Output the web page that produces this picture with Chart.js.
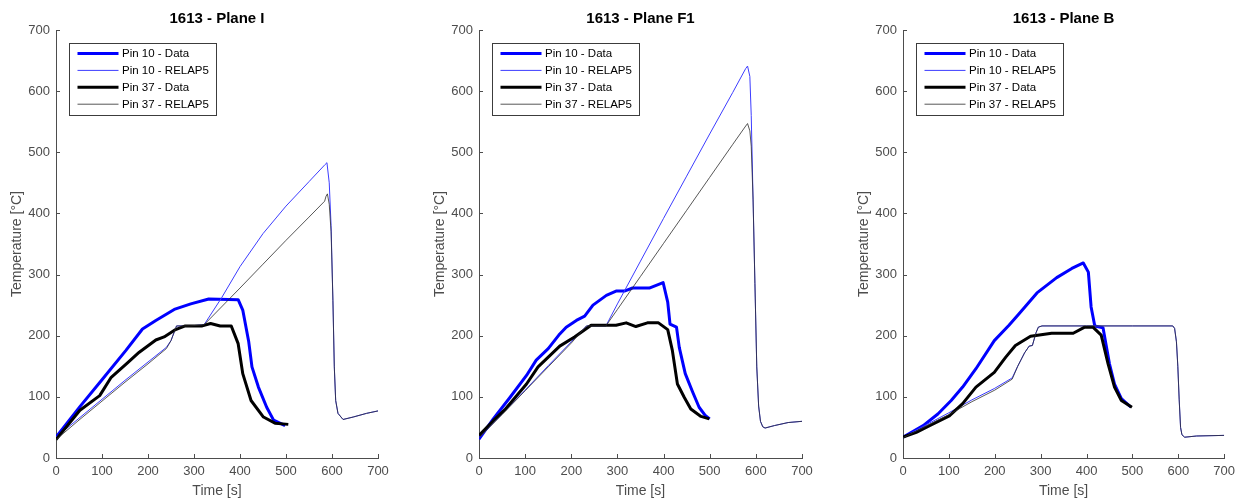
<!DOCTYPE html>
<html>
<head>
<meta charset="utf-8">
<title>1613 - Pin temperatures</title>
<script src="https://cdn.jsdelivr.net/npm/chart.js@4.4.1/dist/chart.umd.min.js"></script>
<style>
    body { margin: 0; background: #fff; width: 1241px; height: 500px; overflow: hidden; position: relative; }
    .panel { position: absolute; top: 0; height: 500px; }
</style>
</head>
<body>
<div class="panel" style="left:0;width:413px"><canvas id="planeI" width="413" height="500"></canvas></div>
<div class="panel" style="left:423px;width:413px"><canvas id="planeF1" width="413" height="500"></canvas></div>
<div class="panel" style="left:847px;width:394px"><canvas id="planeB" width="394" height="500"></canvas></div>
<script>
// Axis ticks (shared by all three panels)
const xTicks = [0, 100, 200, 300, 400, 500, 600, 700];
const yTicks = [0, 100, 200, 300, 400, 500, 600, 700];
const seriesLabels = ['Pin 10 - Data', 'Pin 10 - RELAP5', 'Pin 37 - Data', 'Pin 37 - RELAP5'];

// Plane I
const iPin10DataTime = [0, 52, 100, 152, 188, 217, 257, 293, 332, 396, 406, 419, 426, 440, 458, 473, 498];
const iPin10DataTemp = [34, 84, 128, 176, 211, 225, 243, 252, 260, 259, 242, 190, 149, 116, 83, 62, 53];
const iPin10RelapTime = [0, 50, 100, 150, 200, 240, 250, 262, 290, 322, 360, 400, 450, 500, 550, 585, 589, 594, 598, 602, 605, 608, 613, 624, 646, 675, 700];
const iPin10RelapTemp = [34, 65, 96, 127, 157, 181, 192, 216, 216, 218, 262, 313, 367, 412, 452, 480, 483, 450, 380, 258, 149, 94, 73, 63, 67, 73, 77];
const iPin37DataTime = [0, 52, 95, 120, 153, 181, 217, 235, 260, 281, 318, 336, 357, 381, 396, 406, 424, 451, 476, 505];
const iPin37DataTemp = [30, 78, 102, 132, 154, 173, 193, 198, 210, 216, 216, 220, 216, 216, 187, 138, 94, 67, 57, 55];
const iPin37RelapTime = [0, 50, 100, 150, 200, 240, 250, 262, 290, 322, 400, 450, 500, 550, 584, 587, 590, 594, 598, 602, 605, 608, 613, 624, 646, 675, 700];
const iPin37RelapTemp = [30, 62, 93, 124, 154, 179, 192, 216, 216, 218, 278, 317, 356, 394, 420, 428, 432, 415, 370, 258, 149, 94, 73, 63, 67, 73, 77];

// Plane F1
const f1Pin10DataTime = [0, 31, 67, 103, 124, 150, 173, 189, 211, 229, 247, 276, 297, 315, 333, 369, 399, 409, 414, 428, 434, 447, 463, 477, 491, 500];
const f1Pin10DataTemp = [31, 64, 99, 135, 160, 179, 201, 214, 225, 232, 250, 266, 273, 273, 278, 278, 287, 255, 219, 214, 181, 138, 108, 83, 69, 64];
const f1Pin10RelapTime = [0, 50, 100, 150, 200, 233, 275, 300, 350, 400, 450, 500, 550, 578, 582, 587, 590, 594, 598, 602, 606, 610, 615, 620, 640, 670, 700];
const f1Pin10RelapTemp = [33, 72, 111, 151, 190, 216, 216, 252, 322, 392, 461, 530, 598, 637, 641, 624, 560, 422, 285, 149, 85, 60, 51, 49, 53, 58, 60];
const f1Pin37DataTime = [0, 31, 56, 103, 128, 175, 207, 243, 297, 319, 340, 365, 389, 409, 419, 430, 445, 459, 481, 499];
const f1Pin37DataTemp = [37, 61, 79, 121, 149, 183, 198, 217, 217, 221, 215, 221, 221, 210, 176, 121, 99, 80, 68, 64];
const f1Pin37RelapTime = [0, 50, 100, 150, 200, 233, 275, 300, 350, 400, 450, 500, 550, 578, 582, 587, 590, 594, 598, 602, 606, 610, 615, 620, 640, 670, 700];
const f1Pin37RelapTemp = [33, 71, 110, 149, 188, 216, 216, 243, 297, 351, 405, 459, 513, 543, 547, 535, 510, 422, 285, 149, 85, 60, 51, 49, 53, 58, 60];

// Plane B
const bPin10DataTime = [0, 44, 76, 105, 130, 159, 199, 231, 253, 292, 335, 368, 393, 404, 410, 418, 436, 450, 461, 476, 497];
const bPin10DataTemp = [34, 53, 72, 94, 116, 146, 192, 217, 236, 270, 295, 310, 319, 304, 247, 216, 213, 154, 121, 97, 83];
const bPin10RelapTime = [0, 50, 100, 150, 200, 238, 250, 265, 275, 282, 290, 295, 303, 400, 500, 588, 592, 596, 599, 602, 605, 608, 614, 640, 700];
const bPin10RelapTemp = [34, 54, 74, 95, 114, 131, 150, 172, 183, 184, 205, 214, 216, 216, 216, 216, 212, 190, 150, 95, 50, 38, 34, 36, 37];
const bPin37DataTime = [0, 29, 58, 101, 130, 159, 199, 224, 245, 278, 324, 371, 396, 414, 432, 447, 461, 476, 499];
const bPin37DataTemp = [34, 42, 53, 69, 89, 116, 140, 165, 184, 199, 204, 204, 214, 214, 201, 154, 116, 94, 83];
const bPin37RelapTime = [0, 50, 100, 150, 200, 238, 250, 265, 275, 282, 290, 295, 303, 400, 500, 588, 592, 596, 599, 602, 605, 608, 614, 640, 700];
const bPin37RelapTemp = [33, 52, 71, 92, 111, 129, 150, 172, 183, 184, 205, 214, 216, 216, 216, 216, 212, 190, 150, 95, 50, 38, 34, 36, 37];

const fontFamily = '"Liberation Sans", Arial, sans-serif';
const axisColor = '#4d4d4d';

function toPoints(times, temps) {
    return times.map((t, i) => ({ x: t, y: temps[i] }));
}

// Title, inward tick marks and the boxed legend, drawn like the MATLAB figure
const panelDecor = {
    id: 'panelDecor',
    afterDraw(chart, args, opts) {
        const ctx = chart.ctx;
        const area = chart.chartArea;
        const xs = chart.scales.x;
        const ys = chart.scales.y;
        ctx.save();

        ctx.strokeStyle = axisColor;
        ctx.lineWidth = 1;
        ctx.beginPath();
        xTicks.forEach(v => {
            const px = Math.round(xs.getPixelForValue(v)) + 0.5;
            ctx.moveTo(px, area.bottom);
            ctx.lineTo(px, area.bottom - 4);
        });
        yTicks.forEach(v => {
            const py = Math.round(ys.getPixelForValue(v)) + 0.5;
            ctx.moveTo(area.left, py);
            ctx.lineTo(area.left + 4, py);
        });
        ctx.stroke();

        ctx.fillStyle = '#000';
        ctx.font = 'bold 15px ' + fontFamily;
        ctx.textAlign = 'center';
        ctx.textBaseline = 'middle';
        ctx.fillText(opts.title, (area.left + area.right) / 2, 19);

        // legend
        const bx = Math.round(area.left + 12.7) + 0.5;
        const by = 43.5;
        ctx.fillStyle = '#fff';
        ctx.fillRect(bx, by, 147, 72);
        ctx.strokeStyle = '#3c3c3c';
        ctx.lineWidth = 1;
        ctx.strokeRect(bx, by, 147, 72);
        ctx.font = '11.5px ' + fontFamily;
        ctx.textAlign = 'left';
        chart.data.datasets.forEach((ds, i) => {
            const cy = by + 10 + i * 16.9;
            ctx.strokeStyle = ds.borderColor;
            ctx.lineWidth = ds.borderWidth;
            ctx.beginPath();
            ctx.moveTo(bx + 8, cy);
            ctx.lineTo(bx + 49, cy);
            ctx.stroke();
            ctx.fillStyle = '#000';
            ctx.fillText(ds.label, bx + 52.5, cy + 0.5);
        });
        ctx.restore();
    }
};

function makePanel(canvasId, title, rightPad, p10d, p10r, p37d, p37r) {
    const ctx = document.getElementById(canvasId).getContext('2d');
    return new Chart(ctx, {
        type: 'line',
        data: {
            datasets: [
                { label: seriesLabels[0], data: p10d, borderColor: '#0000ff', borderWidth: 3, order: 4 },
                { label: seriesLabels[1], data: p10r, borderColor: '#3c3cff', borderWidth: 1, order: 3 },
                { label: seriesLabels[2], data: p37d, borderColor: '#000000', borderWidth: 3, order: 2 },
                { label: seriesLabels[3], data: p37r, borderColor: 'rgba(45,45,45,0.8)', borderWidth: 1, order: 1 }
            ]
        },
        options: {
            responsive: false,
            animation: false,
            devicePixelRatio: 1,
            layout: { padding: { top: 30, right: rightPad, bottom: 0, left: 0 } },
            elements: {
                point: { radius: 0 },
                line: { tension: 0, fill: false, borderJoinStyle: 'round' }
            },
            plugins: {
                legend: { display: false },
                tooltip: { enabled: false },
                panelDecor: { title: title }
            },
            scales: {
                x: {
                    type: 'linear',
                    min: 0,
                    max: 700,
                    afterBuildTicks: s => { s.ticks = xTicks.map(v => ({ value: v })); },
                    afterFit: s => { s.height = 42; },
                    grid: { display: false, drawTicks: false },
                    border: { display: true, color: axisColor, width: 1 },
                    ticks: { padding: 6, color: axisColor, font: { family: fontFamily, size: 13 }, maxRotation: 0 },
                    title: { display: true, text: 'Time [s]', color: axisColor, padding: { top: 0, bottom: 0 }, font: { family: fontFamily, size: 14 } }
                },
                y: {
                    type: 'linear',
                    min: 0,
                    max: 700,
                    afterBuildTicks: s => { s.ticks = yTicks.map(v => ({ value: v })); },
                    afterFit: s => { s.width = 56; },
                    grid: { display: false, drawTicks: false },
                    border: { display: true, color: axisColor, width: 1 },
                    ticks: { padding: 6, color: axisColor, font: { family: fontFamily, size: 13 } },
                    title: { display: true, text: 'Temperature [°C]', color: axisColor, padding: { top: 9, bottom: 0 }, font: { family: fontFamily, size: 14 } }
                }
            }
        },
        plugins: [panelDecor]
    });
}

makePanel('planeI', '1613 - Plane I', 35,
    toPoints(iPin10DataTime, iPin10DataTemp), toPoints(iPin10RelapTime, iPin10RelapTemp),
    toPoints(iPin37DataTime, iPin37DataTemp), toPoints(iPin37RelapTime, iPin37RelapTemp));

makePanel('planeF1', '1613 - Plane F1', 34,
    toPoints(f1Pin10DataTime, f1Pin10DataTemp), toPoints(f1Pin10RelapTime, f1Pin10RelapTemp),
    toPoints(f1Pin37DataTime, f1Pin37DataTemp), toPoints(f1Pin37RelapTime, f1Pin37RelapTemp));

makePanel('planeB', '1613 - Plane B', 15,
    toPoints(bPin10DataTime, bPin10DataTemp), toPoints(bPin10RelapTime, bPin10RelapTemp),
    toPoints(bPin37DataTime, bPin37DataTemp), toPoints(bPin37RelapTime, bPin37RelapTemp));
</script>
</body>
</html>
